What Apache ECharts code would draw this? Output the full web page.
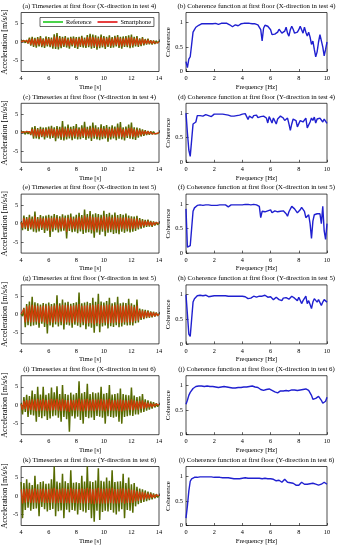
<!DOCTYPE html>
<html><head><meta charset="utf-8">
<script src="https://cdn.jsdelivr.net/npm/echarts@6/dist/echarts.min.js"></script>
<style>html,body{margin:0;padding:0;background:#fff}#c{width:337px;height:550px}</style>
</head><body><div id="c"></div>
<script>
// sampling grids
const TS_START = 4, TS_STEP = 0.1;   // time series: 4..14 s
const F_START = 0, F_STEP = 0.1;     // coherence: 0..10 Hz

// (a) X test 4
const tsRefA = [0.2,-0.3,0.4,-0.2,0.5,-0.4,
 1.2,-1.0,1.4,-1.3,1.1,
 -1.5,1.3,-1.2,1.6,-1.4,1.0,-1.6,1.5,-1.2,1.3,
 -1.4,1.2,-1.8,2.1,-1.9,2.4,-2.0,1.6,-1.7,1.4,
 -1.3,1.6,-1.5,1.2,-1.8,1.4,-1.2,1.5,-1.6,1.3,
 -1.9,1.4,-1.3,1.7,-1.5,1.2,-1.6,1.9,-1.4,2.2,
 -1.8,2.0,-1.6,1.8,-2.1,1.5,-1.7,2.0,-1.5,1.6,
 -1.9,1.4,-1.3,1.8,-1.6,1.3,-1.5,1.7,-1.2,1.9,
 -1.6,1.4,-1.8,1.5,-1.3,1.6,-1.4,1.8,-1.7,2.0,
 -1.5,1.4,-1.2,1.6,-1.3,1.0,-1.1,1.3,-0.9,0.8,
 -0.7,0.9,-0.6,0.5,-0.7,0.4,-0.5,0.3,-0.3,0.2];
const tsPhoneA = [0.1,-0.2,0.3,-0.1,0.3,-0.3,
 0.8,-0.7,0.9,-0.9,0.8,
 -1.0,0.9,-0.8,1.1,-1.0,0.7,-1.1,1.0,-0.8,0.9,
 -1.0,0.8,-1.2,1.4,-1.3,1.5,-1.3,1.1,-1.2,1.0,
 -0.9,1.1,-1.0,0.8,-1.2,1.0,-0.8,1.0,-1.1,0.9,
 -1.3,1.0,-0.9,1.2,-1.0,0.8,-1.1,1.3,-1.0,1.4,
 -1.2,1.3,-1.1,1.2,-1.4,1.0,-1.2,1.3,-1.0,1.1,
 -1.3,1.0,-0.9,1.2,-1.1,0.9,-1.0,1.2,-0.8,1.3,
 -1.1,1.0,-1.2,1.0,-0.9,1.1,-1.0,1.2,-1.1,1.3,
 -1.0,1.0,-0.8,1.1,-0.9,0.7,-0.8,0.9,-0.6,0.6,
 -0.5,0.6,-0.4,0.4,-0.5,0.3,-0.3,0.2,-0.2,0.1];
// (c) Y test 4
const tsRefC = [0.2,-0.3,0.3,-0.4,0.5,-0.3,0.4,-0.6,1.5,-1.6,
 1.8,-1.5,1.3,-1.7,1.6,-1.2,1.4,-1.8,1.5,-1.3,
 1.7,-1.6,1.9,-1.4,1.5,-2.3,1.8,-1.5,1.6,-1.9,
 3.2,-2.1,1.7,-1.8,2.2,-1.5,1.6,-2.0,1.8,-1.6,
 2.4,-1.8,1.5,-1.7,2.0,-1.4,3.0,-1.9,1.6,-1.5,
 1.9,-2.2,2.8,-1.6,2.0,-1.8,1.5,-2.0,2.3,-1.7,
 1.8,-1.5,2.1,-2.4,1.6,-1.8,2.0,-1.5,1.7,-2.0,
 2.5,-1.6,2.9,-1.8,1.5,-2.1,1.7,-1.4,2.2,-1.6,
 2.8,-1.7,1.5,-1.9,1.4,-1.3,1.2,-1.0,0.9,-0.8,
 0.7,-0.6,0.5,-0.5,0.4,-0.4,0.3,-0.3,0.2,-0.2,0.1];
const tsPhoneC = [0.1,-0.2,0.2,-0.3,0.3,-0.2,0.3,-0.4,1.0,-1.0,
 1.1,-1.0,0.9,-1.1,1.0,-0.9,1.0,-1.1,1.0,-0.9,
 1.1,-1.0,1.2,-0.9,1.0,-1.3,1.1,-1.0,1.0,-1.2,
 1.5,-1.2,1.1,-1.1,1.3,-1.0,1.0,-1.2,1.1,-1.0,
 1.3,-1.1,1.0,-1.1,1.2,-0.9,1.4,-1.2,1.0,-1.0,
 1.2,-1.3,1.4,-1.0,1.2,-1.1,1.0,-1.2,1.3,-1.1,
 1.1,-1.0,1.3,-1.4,1.0,-1.1,1.2,-1.0,1.1,-1.2,
 1.4,-1.0,1.5,-1.1,1.0,-1.3,1.1,-0.9,1.3,-1.0,
 1.4,-1.1,1.0,-1.2,0.9,-0.8,0.8,-0.7,0.6,-0.5,
 0.5,-0.4,0.4,-0.3,0.3,-0.3,0.2,-0.2,0.1,-0.1,0.1];
// (e) X test 5
const tsRefE = [0.4,-1.8,2.2,-1.5,1.8,-2.0,2.4,-1.6,1.9,-2.2,
 3.3,-2.4,1.8,-2.1,2.3,-1.7,2.0,-2.5,2.2,-1.9,
 2.4,-3.6,2.1,-2.2,2.6,-1.8,2.3,-2.4,2.0,-2.1,
 2.5,-1.9,2.2,-4.0,2.4,-2.0,2.7,-2.3,1.9,-2.2,
 2.4,-2.6,2.9,-2.1,2.3,-2.8,3.8,-2.5,2.6,-2.3,
 3.4,-2.7,2.5,-3.8,2.8,-2.4,2.6,-3.0,2.4,-2.2,
 3.5,-3.4,2.6,-2.5,2.9,-2.3,2.4,-2.8,3.0,-2.6,
 2.3,-2.9,2.6,-2.2,2.4,-2.5,2.7,-2.1,2.2,-2.4,
 2.0,-2.2,1.9,-2.0,2.1,-1.6,1.5,-1.4,1.2,-1.1,
 1.0,-0.9,1.1,-0.8,0.7,-0.9,0.6,-0.5,0.4,-0.3,0.2];
const tsPhoneE = [0.3,-1.2,1.5,-1.0,1.3,-1.3,1.6,-1.1,1.3,-1.4,
 2.0,-1.5,1.3,-1.4,1.6,-1.2,1.4,-1.6,1.5,-1.3,
 1.6,-2.0,1.5,-1.4,1.7,-1.2,1.6,-1.5,1.4,-1.4,
 1.7,-1.3,1.5,-2.2,1.6,-1.3,1.8,-1.5,1.3,-1.4,
 1.6,-1.6,1.9,-1.4,1.6,-1.7,2.2,-1.6,1.7,-1.5,
 2.1,-1.7,1.7,-2.1,1.8,-1.5,1.7,-1.8,1.6,-1.4,
 2.1,-1.9,1.7,-1.6,1.9,-1.5,1.6,-1.7,1.9,-1.6,
 1.6,-1.8,1.7,-1.4,1.6,-1.6,1.8,-1.4,1.5,-1.5,
 1.4,-1.4,1.3,-1.3,1.4,-1.1,1.0,-0.9,0.8,-0.7,
 0.7,-0.6,0.7,-0.5,0.5,-0.6,0.4,-0.3,0.3,-0.2,0.1];
// (g) Y test 5
const tsRefG = [0.2,-0.5,1.8,-3.5,2.8,-2.9,3.5,-3.2,4.8,-3.0,
 3.3,-2.8,3.0,-3.6,2.7,-2.5,3.1,-3.4,2.9,-5.2,
 3.2,-3.0,2.8,-3.5,3.0,-2.7,5.2,-3.3,3.0,-2.9,
 4.0,-4.1,3.2,-2.8,3.4,-3.0,2.9,-3.6,3.1,-2.8,
 3.3,-3.1,5.9,-3.5,3.0,-2.9,3.2,-4.0,3.4,-3.3,
 3.1,-3.6,4.5,-5.0,3.4,-3.2,5.6,-4.8,3.5,-3.3,
 3.2,-3.0,3.6,-3.8,4.5,-3.2,3.0,-3.4,3.3,-2.9,
 4.8,-3.5,3.0,-3.3,3.2,-2.8,3.1,-3.0,4.2,-2.9,
 3.0,-3.0,2.6,-2.4,4.0,-2.2,1.6,-1.5,1.4,-1.3,
 1.2,-1.0,1.1,-0.9,0.8,-0.8,0.7,-0.6,0.5,-0.4,0.2];
const tsPhoneG = [0.1,-0.3,1.5,-2.2,2.2,-2.0,2.5,-2.2,2.6,-2.1,
 2.4,-2.0,2.3,-2.3,2.1,-2.0,2.4,-2.2,2.3,-2.6,
 2.4,-2.1,2.2,-2.3,2.4,-2.0,2.7,-2.2,2.3,-2.0,
 2.6,-2.5,2.5,-2.1,2.5,-2.2,2.3,-2.4,2.4,-2.0,
 2.5,-2.2,2.8,-2.4,2.3,-2.1,2.4,-2.5,2.5,-2.3,
 2.4,-2.4,2.6,-2.7,2.5,-2.3,2.8,-2.6,2.5,-2.3,
 2.4,-2.2,2.6,-2.5,2.7,-2.3,2.3,-2.4,2.5,-2.1,
 2.7,-2.4,2.3,-2.3,2.4,-2.1,2.4,-2.2,2.6,-2.1,
 2.3,-2.2,2.0,-1.8,2.4,-1.6,1.2,-1.1,1.0,-1.0,
 0.9,-0.8,0.8,-0.7,0.6,-0.6,0.5,-0.5,0.4,-0.3,0.1];
// (i) X test 6
const tsRefI = [0.5,-2.5,2.2,-1.8,2.8,-3.2,2.5,-2.6,4.0,-2.8,
 3.0,-4.5,5.0,-3.2,2.9,-3.5,5.0,-3.0,2.8,-4.0,
 3.2,-3.6,4.8,-3.0,3.5,-2.8,5.1,-3.4,3.0,-4.5,
 5.5,-3.2,3.0,-3.8,2.8,-7.2,3.4,-3.0,2.9,-3.6,
 3.3,-3.1,6.5,-4.0,3.2,-5.0,3.6,-3.2,5.8,-3.5,
 3.0,-3.3,3.5,-4.0,3.2,-2.9,3.4,-3.1,5.0,-3.4,
 3.1,-5.0,3.3,-3.0,5.5,-3.2,2.9,-3.4,3.0,-3.1,
 3.2,-4.5,4.5,-5.0,3.0,-3.2,2.8,-3.0,2.7,-2.8,
 4.8,-2.9,2.6,-2.5,2.2,-2.5,2.4,-2.0,3.0,-1.8,
 1.6,-1.5,1.3,-1.2,1.0,-0.9,0.8,-0.6,0.5,-0.4,0.2];
const tsPhoneI = [0.3,-1.3,1.2,-1.0,1.4,-1.5,1.3,-1.3,1.6,-1.4,
 1.5,-1.6,1.7,-1.5,1.4,-1.5,1.7,-1.4,1.4,-1.6,
 1.5,-1.5,1.7,-1.4,1.5,-1.3,1.7,-1.5,1.4,-1.6,
 1.7,-1.5,1.4,-1.6,1.4,-1.8,1.5,-1.4,1.4,-1.5,
 1.5,-1.4,1.8,-1.6,1.5,-1.7,1.6,-1.5,1.7,-1.5,
 1.4,-1.5,1.6,-1.6,1.5,-1.4,1.5,-1.4,1.7,-1.5,
 1.5,-1.7,1.5,-1.4,1.7,-1.5,1.4,-1.5,1.4,-1.4,
 1.5,-1.6,1.6,-1.7,1.4,-1.5,1.3,-1.4,1.3,-1.3,
 1.6,-1.4,1.3,-1.2,1.1,-1.2,1.2,-1.0,1.3,-0.9,
 0.8,-0.8,0.7,-0.6,0.5,-0.5,0.4,-0.3,0.3,-0.2,0.1];
// (k) Y test 6
const tsRefK = [3.8,-6.0,3.5,-3.8,4.5,-3.2,3.6,-4.0,3.0,-3.5,
 5.5,-3.4,3.2,-5.5,3.8,-3.0,4.0,-3.6,3.3,-4.2,
 3.4,-3.8,4.5,-3.5,8.0,-5.5,3.9,-4.1,3.6,-3.9,
 6.0,-6.0,4.0,-3.7,3.5,-4.4,7.0,-3.8,3.6,-4.0,
 3.7,-5.0,3.5,-3.8,5.5,-4.2,3.9,-4.5,8.0,-3.8,
 4.0,-6.0,3.8,-7.0,4.2,-4.0,7.5,-6.5,4.1,-4.3,
 3.9,-4.0,5.0,-4.2,4.1,-3.8,7.0,-4.5,3.8,-5.0,
 3.9,-4.2,4.0,-3.6,6.0,-6.0,3.5,-3.8,5.0,-4.0,
 3.2,-4.5,3.5,-2.8,2.5,-2.2,2.0,-1.9,1.8,-1.6,
 1.5,-1.4,1.2,-1.1,1.0,-0.9,0.7,-0.6,0.5,-0.4,0.2];
const tsPhoneK = [1.8,-2.0,1.9,-1.8,2.0,-1.7,1.9,-1.9,1.8,-1.8,
 2.1,-1.8,1.8,-2.0,1.9,-1.7,2.0,-1.9,1.8,-1.9,
 1.9,-1.9,2.0,-1.8,2.2,-2.0,1.9,-1.9,1.9,-1.9,
 2.1,-2.0,2.0,-1.9,1.9,-2.0,2.2,-1.9,1.9,-1.9,
 1.9,-2.0,1.9,-1.9,2.1,-2.0,1.9,-2.0,2.2,-1.9,
 2.0,-2.1,1.9,-2.2,2.0,-2.0,2.2,-2.1,2.0,-2.0,
 1.9,-2.0,2.1,-2.0,2.0,-1.9,2.2,-2.0,1.9,-2.0,
 1.9,-2.0,2.0,-1.8,2.1,-2.1,1.8,-1.9,2.0,-1.9,
 1.7,-1.9,1.7,-1.5,1.4,-1.3,1.2,-1.1,1.1,-1.0,
 0.9,-0.8,0.7,-0.7,0.6,-0.5,0.4,-0.4,0.3,-0.2,0.1];

// coherence (0..10 Hz)
const cohB = [0.2,0.08,0.25,0.3,0.55,0.8,0.85,0.9,0.92,0.94,
 0.95,0.97,0.96,0.97,0.98,0.97,0.96,0.97,0.98,0.97,
 0.97,0.98,0.97,0.96,0.97,0.98,0.97,0.98,0.97,0.98,
 0.96,0.95,0.93,0.91,0.93,0.95,0.96,0.93,0.95,0.97,
 0.97,0.98,0.97,0.98,0.99,0.98,0.98,0.97,0.98,0.97,
 0.96,0.95,0.93,0.85,0.62,0.88,0.94,0.95,0.92,0.88,
 0.85,0.75,0.78,0.76,0.72,0.8,0.86,0.82,0.78,0.74,
 0.82,0.9,0.78,0.72,0.85,0.92,0.86,0.78,0.74,0.8,
 0.85,0.92,0.88,0.78,0.9,0.8,0.72,0.8,0.7,0.55,
 0.62,0.45,0.3,0.4,0.6,0.75,0.72,0.5,0.32,0.45,
 0.6];
const cohD = [1.0,0.6,0.25,0.12,0.45,0.78,0.8,0.82,0.95,0.96,
 0.95,0.96,0.94,0.96,0.97,0.98,0.95,0.91,0.93,0.97,
 0.98,0.97,0.98,0.99,0.98,0.97,0.98,0.99,0.97,0.98,
 0.96,0.95,0.94,0.93,0.94,0.93,0.95,0.94,0.96,0.97,
 0.98,0.97,0.99,0.98,0.87,0.94,0.96,0.9,0.95,0.92,
 0.96,0.91,0.95,0.93,0.96,0.94,0.95,0.9,0.8,0.93,
 0.92,0.8,0.9,0.93,0.78,0.88,0.92,0.94,0.95,0.9,
 0.85,0.88,0.9,0.78,0.65,0.78,0.88,0.92,0.85,0.72,
 0.7,0.85,0.88,0.82,0.78,0.9,0.7,0.66,0.82,0.9,
 0.85,0.92,0.8,0.88,0.84,0.9,0.87,0.82,0.88,0.84,
 0.79];
const cohF = [0.9,0.12,0.1,0.15,0.5,0.85,0.92,0.95,0.97,0.97,
 0.98,0.98,0.97,0.98,0.98,0.97,0.98,0.98,0.97,0.98,
 0.97,0.98,0.97,0.98,0.98,0.97,0.98,0.97,0.98,0.96,
 0.94,0.97,0.98,0.97,0.98,0.97,0.98,0.97,0.98,0.98,
 0.98,0.98,0.99,0.98,0.99,0.99,0.98,1.0,0.99,0.98,
 0.98,0.98,0.95,0.72,0.85,0.88,0.84,0.82,0.86,0.9,
 0.88,0.82,0.8,0.86,0.88,0.84,0.82,0.85,0.88,0.86,
 0.88,0.8,0.75,0.84,0.88,0.95,0.92,0.9,0.88,0.82,
 0.8,0.88,0.93,0.9,0.85,0.72,0.76,0.78,0.6,0.3,
 0.65,0.78,0.75,0.8,0.78,0.8,0.6,0.95,0.45,0.28,
 0.6];
const cohH = [1.0,0.6,0.2,0.15,0.5,0.85,0.92,0.96,0.98,0.99,
 0.99,0.99,0.98,0.99,0.99,0.98,0.96,0.94,0.97,0.98,
 0.98,0.99,0.98,0.97,0.98,0.99,0.98,0.97,0.98,0.96,
 0.97,0.96,0.97,0.98,0.97,0.96,0.97,0.98,0.97,0.98,
 0.97,0.98,0.96,0.97,0.92,0.96,0.93,0.95,0.97,0.96,
 0.95,0.96,0.97,0.95,0.97,0.99,0.99,0.97,0.95,0.92,
 0.96,0.94,0.9,0.94,0.95,0.93,0.9,0.92,0.88,0.93,
 0.95,0.94,0.92,0.91,0.94,0.97,0.96,0.93,0.9,0.88,
 0.95,0.93,0.82,0.88,0.92,0.97,0.82,0.88,0.9,0.72,
 0.85,0.92,0.88,0.85,0.9,0.92,0.78,0.85,0.9,0.88,
 0.85];
const cohJ = [0.62,0.7,0.8,0.86,0.9,0.94,0.96,0.98,0.99,0.99,
 0.99,0.99,0.99,0.98,0.98,0.99,0.99,0.98,0.98,0.98,
 0.97,0.97,0.96,0.96,0.97,0.97,0.98,0.98,0.98,0.97,
 0.97,0.96,0.96,0.95,0.95,0.95,0.96,0.96,0.96,0.96,
 0.97,0.97,0.97,0.97,0.98,0.98,0.99,0.99,0.98,0.97,
 0.96,0.96,0.94,0.92,0.89,0.9,0.91,0.92,0.92,0.93,
 0.92,0.9,0.88,0.87,0.86,0.85,0.87,0.89,0.9,0.89,
 0.89,0.9,0.89,0.89,0.9,0.91,0.9,0.91,0.9,0.9,
 0.9,0.91,0.91,0.92,0.93,0.93,0.92,0.9,0.86,0.8,
 0.72,0.7,0.74,0.76,0.78,0.74,0.7,0.64,0.6,0.68,
 0.76];
const cohL = [0.15,0.4,0.7,0.9,0.95,0.97,0.98,0.98,0.98,0.98,
 0.99,0.99,0.99,0.99,0.99,0.99,0.99,0.99,0.99,0.99,
 0.98,0.98,0.98,0.98,0.98,0.97,0.97,0.97,0.97,0.97,
 0.97,0.96,0.96,0.96,0.95,0.95,0.95,0.96,0.95,0.96,
 0.96,0.97,0.97,0.97,0.96,0.95,0.96,0.96,0.96,0.96,
 0.96,0.96,0.96,0.96,0.95,0.96,0.96,0.96,0.95,0.95,
 0.95,0.95,0.94,0.93,0.91,0.9,0.92,0.9,0.88,0.91,
 0.94,0.92,0.88,0.85,0.87,0.88,0.86,0.84,0.82,0.8,
 0.82,0.86,0.88,0.86,0.84,0.82,0.84,0.86,0.85,0.84,
 0.86,0.88,0.84,0.8,0.82,0.86,0.84,0.8,0.88,0.86,
 0.84];

// tick labels
const timeTicks = [4, 6, 8, 10, 12, 14];
const freqTicks = [0, 2, 4, 6, 8, 10];
const accTicks = [-5, 0, 5];
const cohTicks = [0, 0.5, 1];

const tsTitles = [
 '(a) Timeseries at first floor (X-direction in test 4)',
 '(c) Timeseries at first floor (Y-direction in test 4)',
 '(e) Timeseries at first floor (X-direction in test 5)',
 '(g) Timeseries at first floor (Y-direction in test 5)',
 '(i) Timeseries at first floor (X-direction in test 6)',
 '(k) Timeseries at first floor (Y-direction in test 6)'];
const cohTitles = [
 '(b) Coherence function at first floor (X-direction in test 4)',
 '(d) Coherence function at first floor (Y-direction in test 4)',
 '(f) Coherence function at first floor (X-direction in test 5)',
 '(h) Coherence function at first floor (Y-direction in test 5)',
 '(j) Coherence function at first floor (X-direction in test 6)',
 '(l) Coherence function at first floor (Y-direction in test 6)'];
const tsRef = [tsRefA, tsRefC, tsRefE, tsRefG, tsRefI, tsRefK];
const tsPhone = [tsPhoneA, tsPhoneC, tsPhoneE, tsPhoneG, tsPhoneI, tsPhoneK];
const coh = [cohB, cohD, cohF, cohH, cohJ, cohL];

const FONT = 'Liberation Serif';
const ROW0 = 12.5, ROWSTEP = 90.8, PH = 59;
const LX = 20, LW = 139, RX = 186, RW = 141;
const REF_COLOR = '#566a00', PHONE_COLOR = '#e8340c', COH_COLOR = '#2020d0';

const grids = [], xAxes = [], yAxes = [], series = [], titles = [];
const tickStyle = {inside: true, length: 2.5, lineStyle: {color: '#000', width: 0.6}};
const lbl = {fontFamily: FONT, fontSize: 6.3, color: '#000'};

function pairs(arr, start, step) {
  return arr.map((v, i) => [+(start + i * step).toFixed(3), v]);
}

for (let r = 0; r < 6; r++) {
  const top = ROW0 + r * ROWSTEP;
  // left: time series
  let gi = grids.length;
  grids.push({left: LX, top: top, width: LW, height: PH, show: true, borderColor: '#000', borderWidth: 0.7, backgroundColor: '#fff'});
  xAxes.push({type: 'value', gridIndex: gi, min: timeTicks[0], max: timeTicks[timeTicks.length-1],
    axisLine: {show: false}, splitLine: {show: false},
    axisTick: Object.assign({customValues: timeTicks}, tickStyle),
    axisLabel: Object.assign({customValues: timeTicks, margin: 4}, lbl),
    name: 'Time [s]', nameLocation: 'middle', nameGap: 12,
    nameTextStyle: {fontFamily: FONT, fontSize: 6.6, color: '#000'}});
  yAxes.push({type: 'value', gridIndex: gi, min: -8, max: 8,
    axisLine: {show: false}, splitLine: {show: false},
    axisTick: Object.assign({customValues: accTicks}, tickStyle),
    axisLabel: Object.assign({customValues: accTicks, margin: 3}, lbl),
    name: 'Acceleration [m/s/s]', nameLocation: 'middle', nameGap: 9,
    nameTextStyle: {fontFamily: FONT, fontSize: 8, color: '#000'}});
  series.push({type: 'line', name: 'Reference', xAxisIndex: gi, yAxisIndex: gi, showSymbol: false, silent: true,
    data: pairs(tsRef[r], TS_START, TS_STEP), lineStyle: {color: REF_COLOR, width: 1.5}, itemStyle: {color: REF_COLOR}});
  series.push({type: 'line', name: 'Smartphone', xAxisIndex: gi, yAxisIndex: gi, showSymbol: false, silent: true,
    data: pairs(tsPhone[r], TS_START, TS_STEP), lineStyle: {color: PHONE_COLOR, width: 1.2, opacity: 0.85}, itemStyle: {color: PHONE_COLOR}});
  titles.push({text: tsTitles[r], left: LX + LW / 2, top: top - 10, textAlign: 'center', padding: 0,
    textStyle: {fontFamily: FONT, fontSize: 6.8, fontWeight: 'normal', color: '#000'}});

  // right: coherence
  gi = grids.length;
  grids.push({left: RX, top: top, width: RW, height: PH, show: true, borderColor: '#000', borderWidth: 0.7, backgroundColor: '#fff'});
  xAxes.push({type: 'value', gridIndex: gi, min: freqTicks[0], max: freqTicks[freqTicks.length-1],
    axisLine: {show: false}, splitLine: {show: false},
    axisTick: Object.assign({customValues: freqTicks}, tickStyle),
    axisLabel: Object.assign({customValues: freqTicks, margin: 4}, lbl),
    name: 'Frequency [Hz]', nameLocation: 'middle', nameGap: 12,
    nameTextStyle: {fontFamily: FONT, fontSize: 6.6, color: '#000'}});
  yAxes.push({type: 'value', gridIndex: gi, min: 0, max: 1.2,
    axisLine: {show: false}, splitLine: {show: false},
    axisTick: Object.assign({customValues: cohTicks}, tickStyle),
    axisLabel: Object.assign({customValues: cohTicks, margin: 3}, lbl),
    name: 'Coherence', nameLocation: 'middle', nameGap: 11,
    nameTextStyle: {fontFamily: FONT, fontSize: 7, color: '#000'}});
  series.push({type: 'line', name: 'Coherence', xAxisIndex: gi, yAxisIndex: gi, showSymbol: false, silent: true,
    data: pairs(coh[r], F_START, F_STEP), lineStyle: {color: COH_COLOR, width: 1.4}, itemStyle: {color: COH_COLOR}});
  titles.push({text: cohTitles[r], left: RX + RW / 2, top: top - 10, textAlign: 'center', padding: 0,
    textStyle: {fontFamily: FONT, fontSize: 6.8, fontWeight: 'normal', color: '#000'}});
}

const chart = echarts.init(document.getElementById('c'), null, {renderer: 'canvas'});
chart.setOption({
  animation: false,
  backgroundColor: '#fff',
  title: titles,
  legend: {
    left: 40, top: 17.5, orient: 'horizontal', padding: [1.5, 3, 1.5, 3], itemGap: 6,
    itemWidth: 20, itemHeight: 1.6, icon: 'rect',
    backgroundColor: '#fff', borderColor: '#000', borderWidth: 0.6, selectedMode: false,
    textStyle: {fontFamily: FONT, fontSize: 6.3, color: '#000', padding: [0, 0, 0, -2]},
    data: [{name: 'Reference', itemStyle: {color: '#1ec81e'}}, {name: 'Smartphone', itemStyle: {color: '#e01010'}}]
  },
  grid: grids, xAxis: xAxes, yAxis: yAxes, series: series
});
</script></body></html>
